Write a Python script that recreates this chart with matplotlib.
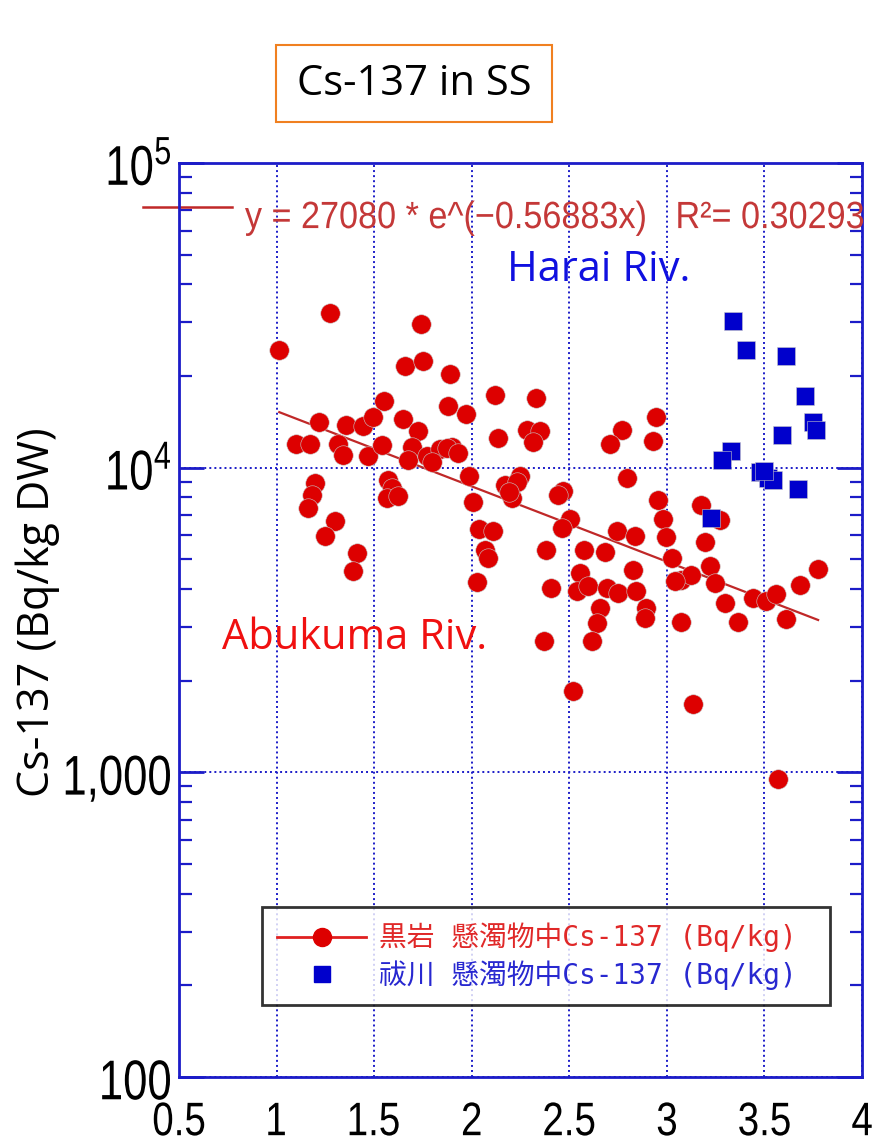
import numpy as np
import matplotlib
matplotlib.use("Agg")
import matplotlib.pyplot as plt
from matplotlib.lines import Line2D
from matplotlib.patches import PathPatch, Rectangle
from matplotlib.textpath import TextPath
from matplotlib.font_manager import FontProperties
from matplotlib.transforms import Affine2D, IdentityTransform
from matplotlib.ticker import FixedLocator, NullFormatter, LogLocator

# Abukuma Riv. (Kuroiwa) suspended solids, Cs-137 (Bq/kg)
red_x = [1.014, 1.274, 1.740, 1.658, 1.752, 1.888, 1.877, 1.550, 1.646, 1.219,
         1.356, 1.444, 1.495, 1.100, 1.170, 1.316, 1.342, 1.470, 1.538, 1.726,
         1.692, 1.675, 1.769, 1.837, 1.897, 1.970, 2.119, 2.327, 2.136, 2.285,
         2.349, 2.315, 2.768, 2.708, 1.871, 1.931, 1.987, 2.794, 2.008, 2.247,
         2.170, 2.204, 2.230, 2.190, 2.469, 2.443, 2.503, 2.461, 2.743, 2.836,
         2.039, 2.111, 2.068, 2.085, 2.380, 2.575, 2.682, 2.025, 2.408, 2.554,
         2.537, 2.595, 2.691, 2.750, 2.827, 2.844, 2.657, 2.640, 2.614, 2.370,
         2.520, 2.944, 2.930, 2.956, 2.981, 2.998, 3.177, 3.272, 3.195, 3.024,
         3.220, 3.075, 3.126, 3.246, 3.775, 3.681, 3.297, 3.442, 3.510, 3.561,
         2.895, 2.887, 3.075, 3.366, 3.610, 3.135, 3.571, 1.197, 1.180, 1.163,
         1.300, 1.248, 1.410, 1.393, 1.572, 1.589, 1.564, 1.623, 3.040, 1.794]
red_y = [24300, 32200, 29700, 21500, 22400, 20300, 15900, 16600, 14400, 14100,
         13800, 13700, 14700, 12000, 12000, 12000, 11000, 10900, 11900, 13200,
         11700, 10600, 10900, 11500, 11700, 15000, 17300, 16900, 12500, 13300,
         13200, 12100, 13300, 12000, 11600, 11200, 9420, 9250, 7690, 9370,
         8800, 7960, 9000, 8300, 8360, 8150, 6760, 6350, 6180, 5960,
         6270, 6180, 5380, 5060, 5380, 5380, 5270, 4200, 4030, 4520,
         3930, 4090, 4030, 3880, 4630, 3930, 3470, 3100, 2690, 2690,
         1850, 14700, 12200, 7850, 6800, 5930, 7570, 6710, 5700, 5060,
         4770, 4290, 4460, 4190, 4650, 4130, 3600, 3740, 3650, 3840,
         3470, 3210, 3110, 3110, 3180, 1670, 949, 8910, 8150, 7380,
         6670, 5960, 5250, 4570, 9140, 8580, 7960, 8050, 4240, 10400]

# Harai Riv. suspended solids
blue_x = [3.340, 3.408, 3.613, 3.710, 3.749, 3.766, 3.588, 3.328, 3.285, 3.477,
          3.520, 3.545, 3.500, 3.670, 3.228]
blue_y = [30300, 24300, 23300, 17200, 14100, 13300, 12800, 11300, 10600, 9660,
          9250, 9140, 9730, 8520, 6830]

# exponential fit shown on the chart
FIT_A = 27080
FIT_B = -0.56883

x_ticks = [0.5, 1, 1.5, 2, 2.5, 3, 3.5, 4]
x_tick_labels = ["0.5", "1", "1.5", "2", "2.5", "3", "3.5", "4"]
y_ticks = [100, 1000, 1e4, 1e5]
y_tick_labels = ["100", "1,000", r"$\mathrm{10^4}$", r"$\mathrm{10^5}$"]

W, H = 874, 1146
AXBLUE = "#1c1cc8"
RED = "#dd0000"
BLUE = "#0000cc"
CALIBRI = ["Open Sans", "DejaVu Sans"]

plt.rcParams["mathtext.fontset"] = "custom"
plt.rcParams["mathtext.rm"] = "Liberation Sans"
NARROW_FP = FontProperties(family="Liberation Sans")


def narrow_text(fig, px, py, s, em, sx=0.78, ha="center", color="black"):
    # condensed text: glyph outlines squeezed horizontally; px, py in pixels
    # from the top-left, vertically centred on the digit height
    path = TextPath((0, 0), s, size=em, prop=NARROW_FP)
    ref = TextPath((0, 0), "0", size=em, prop=NARROW_FP).get_extents()
    ext = path.get_extents()
    dx = {"left": ext.x0, "center": (ext.x0 + ext.x1) / 2, "right": ext.x1}[ha]
    dy = (ref.y0 + ref.y1) / 2
    tr = Affine2D().translate(-dx, -dy).scale(sx, 1).translate(px, H - py)
    patch = PathPatch(tr.transform_path(path), transform=IdentityTransform(),
                      fc=color, ec="none", lw=0)
    fig.add_artist(patch)


fig = plt.figure(figsize=(W / 100, H / 100), dpi=100)
ax = fig.add_axes([179 / W, 1 - 1077 / H, 683 / W, 914 / H])

ax.set_xlim(0.5, 4)
ax.set_yscale("log")
ax.set_ylim(100, 1e5)

# fit line drawn at the sorted red x positions
fx = np.sort(np.array(red_x))
ax.plot(fx, FIT_A * np.exp(FIT_B * fx), color="#c02828", lw=1.6, zorder=3)

ax.plot(red_x, red_y, "o", color=RED, ms=14, mec="#c8c8c8", mew=0.4, zorder=4)
ax.plot(blue_x, blue_y, "s", color=BLUE, ms=13, mec="#c8c8c8", mew=0.4, zorder=5)

for s in ax.spines.values():
    s.set_color(AXBLUE)
    s.set_linewidth(2)

ax.xaxis.set_major_locator(FixedLocator(x_ticks))
ax.xaxis.set_major_formatter(NullFormatter())
ax.yaxis.set_major_locator(FixedLocator(y_ticks))
ax.yaxis.set_major_formatter(NullFormatter())
ax.yaxis.set_minor_locator(LogLocator(base=10, subs=np.arange(2, 10)))
ax.yaxis.set_minor_formatter(NullFormatter())

ax.tick_params(axis="x", which="major", length=0)
ax.tick_params(axis="y", which="major", direction="in", length=18, width=2,
               color=AXBLUE, left=True, right=True)
ax.tick_params(axis="y", which="minor", direction="in", length=9, width=1.6,
               color=AXBLUE, left=True, right=True)

ax.grid(True, which="major", axis="both", color=AXBLUE, lw=1.4,
        linestyle=(0, (1, 1.6)), zorder=1)

# condensed tick labels
for xt, lab in zip(x_ticks, x_tick_labels):
    px = ax.transData.transform((xt, 100))[0]
    narrow_text(fig, px, 1119, lab, em=47, sx=0.82)
for yt, lab in zip(y_ticks, y_tick_labels):
    py = H - ax.transData.transform((1, yt))[1]
    narrow_text(fig, 170, py + 3, lab, em=56, sx=0.78, ha="right")

ax.set_ylabel("Cs-137 (Bq/kg DW)", family=CALIBRI, fontsize=31)
ax.yaxis.set_label_coords((60 - 179) / 683, (1077 - 612) / 914)

# fit legend line + equation at the top
ax.add_line(Line2D([(143 - 179) / 683, (232 - 179) / 683], [0.952, 0.952],
                   transform=ax.transAxes, color="#c02828", lw=1.8, clip_on=False))
narrow_text(fig, 245, 215, "y = 27080 * e^(\u22120.56883x)   R\u00b2= 0.30293",
            em=38, sx=0.9, ha="left", color="#c43838")

ax.text((599 - 179) / 683, (1077 - 270) / 914, "Harai Riv.", transform=ax.transAxes,
        ha="center", va="center", fontsize=30, color="#1010e0", family=CALIBRI)
ax.text((355 - 179) / 683, (1077 - 638) / 914, "Abukuma Riv.", transform=ax.transAxes,
        ha="center", va="center", fontsize=30, color="#f01010", family=CALIBRI)

# legend
h_red = Line2D([], [], color="#e02020", lw=2, marker="o", ms=13,
               markerfacecolor=RED, markeredgecolor=RED)
h_blue = Line2D([], [], color=BLUE, lw=0, marker="s", ms=11)
leg = ax.legend([h_red, h_blue],
                ["黒岩 懸濁物中Cs-137 (Bq/kg)", "祓川 懸濁物中Cs-137 (Bq/kg)"],
                loc="lower left",
                bbox_to_anchor=((262 - 179) / 683, (1077 - 1005) / 914, 568 / 683, 0.1),
                mode="expand", borderaxespad=0,
                prop={"family": ["DejaVu Sans Mono", "Noto Sans CJK JP"], "size": 20},
                frameon=True, fancybox=False, handlelength=3.2,
                borderpad=0.55, labelspacing=0.28, handletextpad=0.45)
leg.get_frame().set_edgecolor("black")
leg.get_frame().set_linewidth(2)
leg.texts[0].set_color("#e02828")
leg.texts[1].set_color("#2828d0")

# title box
fig.add_artist(Rectangle((276 / W, 1 - 122 / H), 276 / W, 77 / H,
                         transform=fig.transFigure, fc="white", ec="#f08020", lw=1.5))
fig.text(414 / W, 1 - 84 / H, "Cs-137 in SS", ha="center", va="center",
         fontsize=30, family=CALIBRI)

fig.savefig("out.png", dpi=100)
